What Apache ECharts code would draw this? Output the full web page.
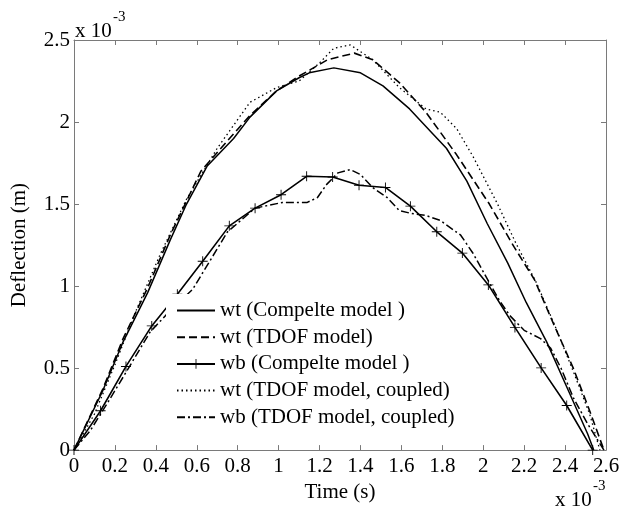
<!DOCTYPE html>
<html>
<head>
<meta charset="utf-8">
<script src="https://cdn.jsdelivr.net/npm/echarts@6/dist/echarts.min.js"></script>
<style>html,body{margin:0;padding:0;background:#fff}#c{width:628px;height:508px}</style>
</head>
<body>
<div id="c"></div>
<script>
// Units: time x 1e-3 s, deflection x 1e-3 m
var seriesNames = ['wt (Compelte model )', 'wt (TDOF model)', 'wb (Compelte model )', 'wt (TDOF model, coupled)', 'wb (TDOF model, coupled)'];
var xTicks = [0, 0.2, 0.4, 0.6, 0.8, 1, 1.2, 1.4, 1.6, 1.8, 2, 2.2, 2.4, 2.6];
var yTicks = [0, 0.5, 1, 1.5, 2, 2.5];

var wtCompleteT = [0, 0.14, 0.24, 0.36, 0.47, 0.55, 0.65, 0.78, 0.86, 0.99, 1.1, 1.15, 1.27, 1.4, 1.51, 1.64, 1.76, 1.82, 1.92, 2.02, 2.12, 2.21, 2.31, 2.41, 2.51, 2.54];
var wtCompleteV = [0, 0.36, 0.66, 0.96, 1.28, 1.50, 1.73, 1.90, 2.03, 2.19, 2.27, 2.30, 2.33, 2.30, 2.22, 2.08, 1.92, 1.84, 1.64, 1.38, 1.14, 0.90, 0.66, 0.38, 0.10, 0];

var wtTdofT = [0, 0.14, 0.24, 0.36, 0.47, 0.62, 0.76, 0.86, 0.99, 1.1, 1.24, 1.37, 1.46, 1.59, 1.72, 1.87, 2.03, 2.15, 2.25, 2.34, 2.44, 2.52, 2.59];
var wtTdofV = [0, 0.37, 0.68, 0.99, 1.31, 1.70, 1.90, 2.04, 2.19, 2.28, 2.38, 2.42, 2.38, 2.24, 2.06, 1.80, 1.50, 1.24, 1.04, 0.78, 0.50, 0.24, 0];

var wbCompleteT = [0, 0.13, 0.254, 0.38, 0.505, 0.629, 0.759, 0.885, 1.012, 1.137, 1.264, 1.393, 1.522, 1.644, 1.773, 1.898, 2.025, 2.155, 2.283, 2.408, 2.535];
var wbCompleteV = [0, 0.24, 0.51, 0.757, 0.95, 1.151, 1.367, 1.475, 1.557, 1.669, 1.665, 1.615, 1.601, 1.487, 1.331, 1.201, 1.007, 0.748, 0.501, 0.272, 0];

var wtCoupledT = [0, 0.1, 0.2, 0.3, 0.42, 0.55, 0.7, 0.86, 0.99, 1.1, 1.2, 1.27, 1.35, 1.46, 1.59, 1.72, 1.79, 1.87, 1.95, 2.07, 2.16, 2.26, 2.35, 2.44, 2.52, 2.57];
var wtCoupledV = [0, 0.22, 0.52, 0.84, 1.19, 1.53, 1.84, 2.12, 2.21, 2.25, 2.36, 2.45, 2.47, 2.38, 2.21, 2.08, 2.06, 1.96, 1.79, 1.50, 1.26, 1.02, 0.76, 0.48, 0.22, 0];

var wbCoupledT = [0, 0.08, 0.16, 0.257, 0.372, 0.47, 0.58, 0.75, 0.885, 1.02, 1.14, 1.19, 1.235, 1.29, 1.35, 1.40, 1.46, 1.53, 1.59, 1.64, 1.72, 1.79, 1.89, 1.95, 2.03, 2.08, 2.13, 2.2, 2.28, 2.33, 2.38, 2.44, 2.51, 2.59];
var wbCoupledV = [0, 0.12, 0.28, 0.48, 0.72, 0.85, 0.98, 1.33, 1.475, 1.51, 1.51, 1.54, 1.62, 1.69, 1.71, 1.68, 1.60, 1.54, 1.46, 1.445, 1.43, 1.40, 1.31, 1.20, 1.02, 0.91, 0.82, 0.73, 0.68, 0.62, 0.50, 0.32, 0.16, 0];

function pairs(t, v) { return t.map(function (x, i) { return [x, v[i]]; }); }

var FONT = 'Liberation Serif';
var FRAME = '#7a7a7a';
var plus = 'path://M-1,-0.09 L1,-0.09 L1,0.09 L-1,0.09 Z M-0.09,-1 L0.09,-1 L0.09,1 L-0.09,1 Z';
var hidden = { color: 'rgba(0,0,0,0)', borderColor: 'rgba(0,0,0,0)', borderWidth: 0 };

function axisCommon(show) {
  return {
    axisLine: { show: true, onZero: false, lineStyle: { color: FRAME, width: 1 } },
    axisTick: { show: true, inside: true, length: 5, lineStyle: { color: FRAME } },
    splitLine: { show: false },
    axisLabel: { show: show, color: '#000', fontFamily: FONT, fontSize: 21 }
  };
}

var xMain = Object.assign(axisCommon(true), {
  type: 'value', min: xTicks[0], max: xTicks[xTicks.length - 1], interval: 0.2, position: 'bottom',
  name: 'Time (s)', nameLocation: 'middle', nameGap: 31,
  nameTextStyle: { color: '#000', fontFamily: FONT, fontSize: 21 }
});
xMain.axisLabel.margin = 6;
var xTop = Object.assign(axisCommon(false), { type: 'value', min: 0, max: 2.6, interval: 0.2, position: 'top' });
var yMain = Object.assign(axisCommon(true), {
  type: 'value', min: yTicks[0], max: yTicks[yTicks.length - 1], interval: 0.5, position: 'left',
  name: 'Deflection (m)', nameLocation: 'middle', nameGap: 44, nameRotate: 90,
  nameTextStyle: { color: '#000', fontFamily: FONT, fontSize: 21 }
});
yMain.axisLabel.margin = 4;
var yRight = Object.assign(axisCommon(false), { type: 'value', min: 0, max: 2.5, interval: 0.5, position: 'right' });

function mk(name, data, type, width, symbol) {
  return {
    name: name, type: 'line', xAxisIndex: 0, yAxisIndex: 0, data: data,
    symbol: symbol || 'none', symbolSize: 10, showSymbol: !!symbol,
    itemStyle: { color: '#000' },
    lineStyle: { color: '#000', width: width, type: type },
    emphasis: { disabled: true }, animation: false, z: 2
  };
}

var chart = echarts.init(document.getElementById('c'), null, { renderer: 'canvas' });
chart.setOption({
  animation: false,
  backgroundColor: '#fff',
  grid: { left: 74, top: 40, right: 22, bottom: 51, containLabel: false, show: false },
  xAxis: [xMain, xTop],
  yAxis: [yMain, yRight],
  legend: {
    orient: 'vertical', left: 166, top: 294, padding: [6, 4, 2, 10], itemGap: 5.7,
    itemWidth: 38, itemHeight: 12, backgroundColor: '#fff',
    textStyle: { color: '#000', fontFamily: FONT, fontSize: 21, lineHeight: 20 },
    data: [
      { name: seriesNames[0], itemStyle: hidden },
      { name: seriesNames[1], itemStyle: hidden },
      { name: seriesNames[2] },
      { name: seriesNames[3], itemStyle: hidden },
      { name: seriesNames[4], itemStyle: hidden }
    ],
    selectedMode: false, z: 10
  },
  graphic: [
    { type: 'text', left: 75, top: 21, style: { text: 'x 10', font: '21px "Liberation Serif"', fill: '#000' } },
    { type: 'text', left: 113, top: 10, style: { text: '-3', font: '15px "Liberation Serif"', fill: '#000' } },
    { type: 'text', left: 555, top: 490, style: { text: 'x 10', font: '21px "Liberation Serif"', fill: '#000' } },
    { type: 'text', left: 593, top: 479, style: { text: '-3', font: '15px "Liberation Serif"', fill: '#000' } }
  ],
  series: [
    mk(seriesNames[0], pairs(wtCompleteT, wtCompleteV), 'solid', 1.5),
    mk(seriesNames[1], pairs(wtTdofT, wtTdofV), [8, 4], 1.6),
    mk(seriesNames[2], pairs(wbCompleteT, wbCompleteV), 'solid', 1.6, plus),
    mk(seriesNames[3], pairs(wtCoupledT, wtCoupledV), [1.5, 3], 1.3),
    mk(seriesNames[4], pairs(wbCoupledT, wbCoupledV), [8, 3, 2, 3], 1.5)
  ]
});
</script>
</body>
</html>
